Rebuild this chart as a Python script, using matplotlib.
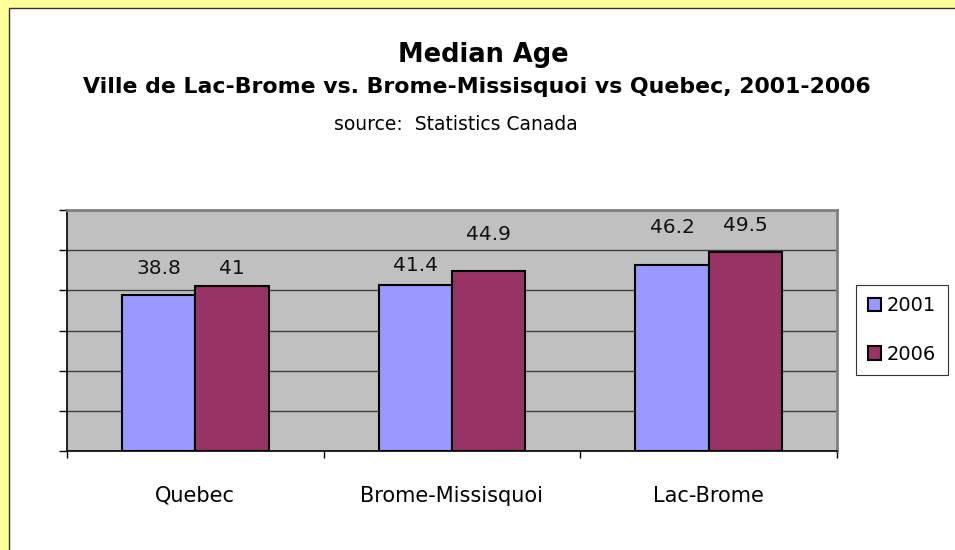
import matplotlib
matplotlib.use("Agg")
import matplotlib.pyplot as plt
from matplotlib.patches import Rectangle, Patch
import numpy as np

categories = ["Quebec", "Brome-Missisquoi", "Lac-Brome"]
years = ["2001", "2006"]
age_2001 = [38.8, 41.4, 46.2]
age_2006 = [41, 44.9, 49.5]

colors = ["#9999FF", "#993366"]
# label lift above the bar top, in points (as placed in the original)
lift_2001 = [19, 13.5, 27.5]
lift_2006 = [12.5, 26, 19.5]

plt.rcParams["font.family"] = ["DejaVu Sans"]

fig = plt.figure(figsize=(9.55, 5.5), dpi=100)
fig.patch.set_facecolor("white")

# yellow frame at top and left, with the dark border of the chart area
fig.patches.append(Rectangle((0, 0), 1, 1, transform=fig.transFigure,
                             facecolor="#FFFF99", edgecolor="none", zorder=-2))
fig.patches.append(Rectangle((9 / 955, -0.01), 1, 1 - 8 / 550 + 0.01,
                             transform=fig.transFigure, facecolor="white",
                             edgecolor="#333333", linewidth=1.0, zorder=-1))

ax = fig.add_axes([67 / 955, 99 / 550, 770 / 955, 241 / 550])
ax.set_facecolor("#C0C0C0")

x = np.arange(len(categories))
w = 0.286
b1 = ax.bar(x - w / 2, age_2001, w, color=colors[0], edgecolor="black",
            linewidth=1.5, zorder=3)
b2 = ax.bar(x + w / 2, age_2006, w, color=colors[1], edgecolor="black",
            linewidth=1.5, zorder=3)

for bars, vals, lifts in [(b1, age_2001, lift_2001), (b2, age_2006, lift_2006)]:
    for r, v, l in zip(bars, vals, lifts):
        ax.annotate(f"{v:g}", (r.get_x() + r.get_width() / 2, v),
                    xytext=(0, l), textcoords="offset points",
                    ha="center", va="center", fontsize=14.5, color="#111111")

ax.set_xlim(-0.5, 2.5)
ax.set_ylim(0, 60)
ax.set_yticks(np.arange(0, 61, 10))
ax.set_yticklabels([])
ax.yaxis.grid(True, color="#404040", linewidth=1.0, zorder=1)
ax.set_axisbelow(True)

ax.set_xticks(x)
ax.set_xticklabels(categories, fontsize=15)
ax.set_xticks(np.arange(-0.5, 2.6, 1), minor=True)
ax.tick_params(axis="x", which="major", length=0, pad=25)
ax.tick_params(axis="x", which="minor", length=5, width=1, color="black",
               direction="out")
ax.tick_params(axis="y", length=6, width=1, color="black", direction="out")

for s in ["top", "right"]:
    ax.spines[s].set_color("#808080")
    ax.spines[s].set_linewidth(2)
for s in ["left", "bottom"]:
    ax.spines[s].set_color("black")
    ax.spines[s].set_linewidth(1.2)

fig.text(483 / 955, 1 - 62 / 550, "Median Age", ha="center", va="baseline",
         fontsize=18.5, fontweight="bold")
fig.text(477 / 955, 1 - 93 / 550,
         "Ville de Lac-Brome vs. Brome-Missisquoi vs Quebec, 2001-2006",
         ha="center", va="baseline", fontsize=15.8, fontweight="bold")
fig.text(456 / 955, 1 - 130 / 550, "source:  Statistics Canada",
         ha="center", va="baseline", fontsize=13.5)

handles = [Patch(facecolor=c, edgecolor="black", linewidth=1.5) for c in colors]
leg = fig.legend(handles, years, loc="center", bbox_to_anchor=(902 / 955, 1 - 330 / 550),
                 fontsize=14, frameon=True, fancybox=False, handlelength=0.7,
                 handleheight=0.7, handletextpad=0.3, labelspacing=1.5,
                 borderpad=0.6, borderaxespad=0, edgecolor="black")
leg.get_frame().set_linewidth(0.8)

fig.savefig("out.png", dpi=100)
